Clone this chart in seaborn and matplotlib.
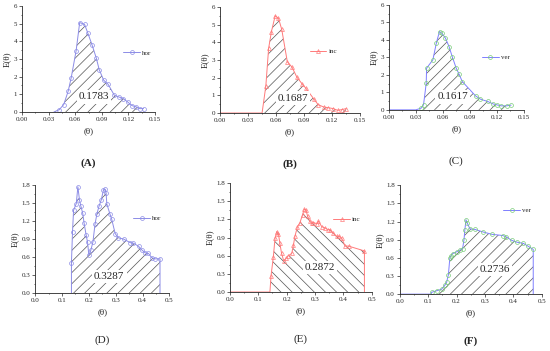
import numpy as np
import matplotlib
matplotlib.use("Agg")
import matplotlib.pyplot as plt
import seaborn as sns
from matplotlib.ticker import MultipleLocator, AutoMinorLocator

sns.set_style("ticks")
plt.rcParams['font.family'] = ['Liberation Serif', 'DejaVu Serif']
plt.rcParams['hatch.linewidth'] = 0.5

# ---- data ----
# (A) hor, small scale
a_x = [0.036, 0.042, 0.047, 0.052, 0.0555, 0.061, 0.065, 0.0705, 0.074, 0.079, 0.0836, 0.087,
       0.092, 0.097, 0.104, 0.109, 0.114, 0.119, 0.124, 0.129, 0.133, 0.137]
a_y = [0.0, 0.13, 0.42, 1.17, 1.95, 3.47, 5.06, 4.96, 4.49, 3.79, 3.07, 2.4,
       1.8, 1.57, 0.95, 0.85, 0.76, 0.57, 0.36, 0.28, 0.19, 0.19]
# (B) inc
b_x = [0.0, 0.045, 0.049, 0.052, 0.055, 0.059, 0.0625, 0.066, 0.072, 0.077, 0.082, 0.0875,
       0.092, 0.1, 0.105, 0.111, 0.116, 0.121, 0.126, 0.130, 0.135]
b_y = [0.0, 0.0, 1.52, 3.66, 4.61, 5.5, 5.37, 4.74, 2.9, 2.6, 2.05, 1.67,
       1.39, 0.82, 0.47, 0.34, 0.3, 0.25, 0.15, 0.19, 0.25]
# (C) ver
c_x = [0.0, 0.03, 0.036, 0.0386, 0.0416, 0.042, 0.049, 0.053, 0.0564, 0.059, 0.063, 0.067,
       0.0705, 0.075, 0.078, 0.0817, 0.0965, 0.102, 0.11, 0.116, 0.12, 0.125, 0.131, 0.136]
c_y = [0.0, 0.0, 0.1, 0.29, 1.52, 2.38, 2.86, 3.85, 4.48, 4.38, 4.1, 3.62,
       3.05, 2.38, 2.06, 1.62, 0.8, 0.61, 0.48, 0.34, 0.29, 0.23, 0.23, 0.27]
# (D) hor, large scale
d_x = [0.135, 0.135, 0.139, 0.143, 0.153, 0.159, 0.165, 0.17, 0.177, 0.182, 0.19, 0.195,
       0.2, 0.207, 0.215, 0.223, 0.23, 0.238, 0.246, 0.254, 0.26, 0.264, 0.267, 0.279,
       0.285, 0.298, 0.31, 0.329, 0.354, 0.366, 0.385, 0.397, 0.41, 0.422, 0.434, 0.447,
       0.465, 0.465]
d_y = [0.0, 0.5, 1.02, 1.38, 1.49, 1.77, 1.55, 1.45, 1.33, 1.17, 0.96, 0.85,
       0.63, 0.71, 0.85, 1.15, 1.32, 1.45, 1.55, 1.71, 1.73, 1.67, 1.48, 1.31,
       1.23, 0.99, 0.92, 0.9, 0.84, 0.83, 0.78, 0.72, 0.67, 0.66, 0.59, 0.57,
       0.57, 0.0]
# (E) inc
e_x = [0.0, 0.141, 0.145, 0.153, 0.159, 0.165, 0.171, 0.176, 0.182, 0.19, 0.198, 0.206,
       0.218, 0.224, 0.229, 0.238, 0.247, 0.256, 0.262, 0.268, 0.274, 0.282, 0.288, 0.294,
       0.306, 0.312, 0.324, 0.335, 0.347, 0.353, 0.365, 0.376, 0.386, 0.394, 0.406, 0.418,
       0.474, 0.474]
e_y = [0.0, 0.0, 0.27, 0.58, 0.89, 1.0, 0.96, 0.81, 0.64, 0.51, 0.56, 0.6,
       0.64, 0.78, 0.92, 1.08, 1.15, 1.28, 1.37, 1.36, 1.25, 1.17, 1.14, 1.15,
       1.13, 1.17, 1.08, 1.06, 1.03, 1.03, 0.97, 0.92, 0.92, 0.89, 0.76, 0.76,
       0.68, 0.0]
# (F) ver
f_x = [0.0, 0.11, 0.112, 0.132, 0.147, 0.159, 0.165, 0.171, 0.176, 0.179, 0.186, 0.2,
       0.212, 0.221, 0.226, 0.229, 0.233, 0.238, 0.247, 0.265, 0.292, 0.324, 0.362, 0.374,
       0.394, 0.412, 0.435, 0.453, 0.47, 0.47]
f_y = [0.0, 0.0, 0.03, 0.06, 0.08, 0.15, 0.2, 0.32, 0.59, 0.63, 0.67, 0.7,
       0.73, 0.75, 0.9, 1.06, 1.23, 1.17, 1.08, 1.07, 1.03, 0.99, 0.97, 0.95,
       0.89, 0.86, 0.84, 0.79, 0.74, 0.0]

areas = ["0.1783", "0.1687", "0.1617", "0.3287", "0.2872", "0.2736"]
names = ["hor", "inc", "ver", "hor", "inc", "ver"]
letters = ["(A)", "(B)", "(C)", "(D)", "(E)", "(F)"]

hor_c = "#8c8ce6"
inc_c = "#ff7a7a"
ver_c = "#7f7fff"
ver_m = "#77cc77"

panels = [
    # data, line colour, marker, marker colour, markevery, hatch, axes rect, legend pos, text pos, bold
    (a_x, a_y, hor_c, "o", hor_c, slice(1, None), "///", [0.040, 0.681, 0.242, 0.302], (0.74, 0.56), (0.081, 0.85), True),
    (b_x, b_y, inc_c, "^", inc_c, slice(2, None), "///", [0.400, 0.678, 0.255, 0.302], (0.62, 0.58), (0.078, 0.85), True),
    (c_x, c_y, ver_c, "o", ver_m, slice(2, None), "///", [0.707, 0.687, 0.245, 0.299], (0.67, 0.50), (0.071, 0.74), False),
    (d_x, d_y, hor_c, "o", hor_c, slice(1, -1), "///", [0.064, 0.165, 0.244, 0.308], (0.71, 0.69), (0.276, 0.28), False),
    (e_x, e_y, inc_c, "^", inc_c, slice(2, -1), "\\\\\\", [0.418, 0.168, 0.258, 0.310], (0.71, 0.67), (0.317, 0.40), False),
    (f_x, f_y, ver_c, "o", ver_m, slice(2, -1), "///", [0.727, 0.162, 0.258, 0.310], (0.71, 0.77), (0.335, 0.41), True),
]

fig = plt.figure(figsize=(5.5, 3.51), dpi=100)

for i, (x, y, lc, mk, mc, mev, hatch, rect, legpos, txtpos, bold) in enumerate(panels):
    ax = fig.add_axes(rect)
    ax.fill_between(x, y, 0, facecolor="none", edgecolor="#555555", hatch=hatch, linewidth=0)
    sns.lineplot(x=x, y=y, ax=ax, color=lc, lw=0.7, marker=mk, markersize=2.8,
                 markerfacecolor="none", markeredgecolor=mc, markeredgewidth=0.5,
                 markevery=mev, label=names[i], sort=False, estimator=None)
    ax.text(txtpos[0], txtpos[1], areas[i], fontsize=8, ha="center", va="center", zorder=5,
            bbox=dict(facecolor="white", edgecolor="none", pad=1.5))
    if i < 3:
        ax.set_xlim(0, 0.15)
        ax.set_ylim(0, 6)
        ax.xaxis.set_major_locator(MultipleLocator(0.03))
        ax.yaxis.set_major_locator(MultipleLocator(1))
        ax.xaxis.set_major_formatter(matplotlib.ticker.FormatStrFormatter("%.2f"))
    else:
        ax.set_xlim(0, 0.5)
        ax.set_ylim(0, 1.8)
        ax.xaxis.set_major_locator(MultipleLocator(0.1))
        ax.yaxis.set_major_locator(MultipleLocator(0.3))
        ax.xaxis.set_major_formatter(matplotlib.ticker.FormatStrFormatter("%.1f"))
    ax.xaxis.set_minor_locator(AutoMinorLocator(2))
    ax.yaxis.set_minor_locator(AutoMinorLocator(2))
    ax.tick_params(which="major", labelsize=5, length=2, width=0.5, pad=1.5)
    ax.tick_params(which="minor", length=1, width=0.5)
    for s in ["left", "bottom"]:
        ax.spines[s].set_linewidth(0.6)
    sns.despine(ax=ax)
    ax.set_xlabel("(θ)", fontsize=6.5, labelpad=4)
    ax.set_ylabel("E(θ)", fontsize=6.5, labelpad=2)
    ax.legend(loc="center left", bbox_to_anchor=legpos, frameon=False, fontsize=5,
              handlelength=2.4, handletextpad=0.3, borderaxespad=0)
    cx = rect[0] + rect[2] / 2
    ly = rect[1] - 0.145 if i < 3 else rect[1] - 0.134
    fig.text(cx, ly, letters[i], ha="center", va="center", fontsize=8,
             fontweight="bold" if bold else "normal")

fig.savefig("out.png", dpi=100)
